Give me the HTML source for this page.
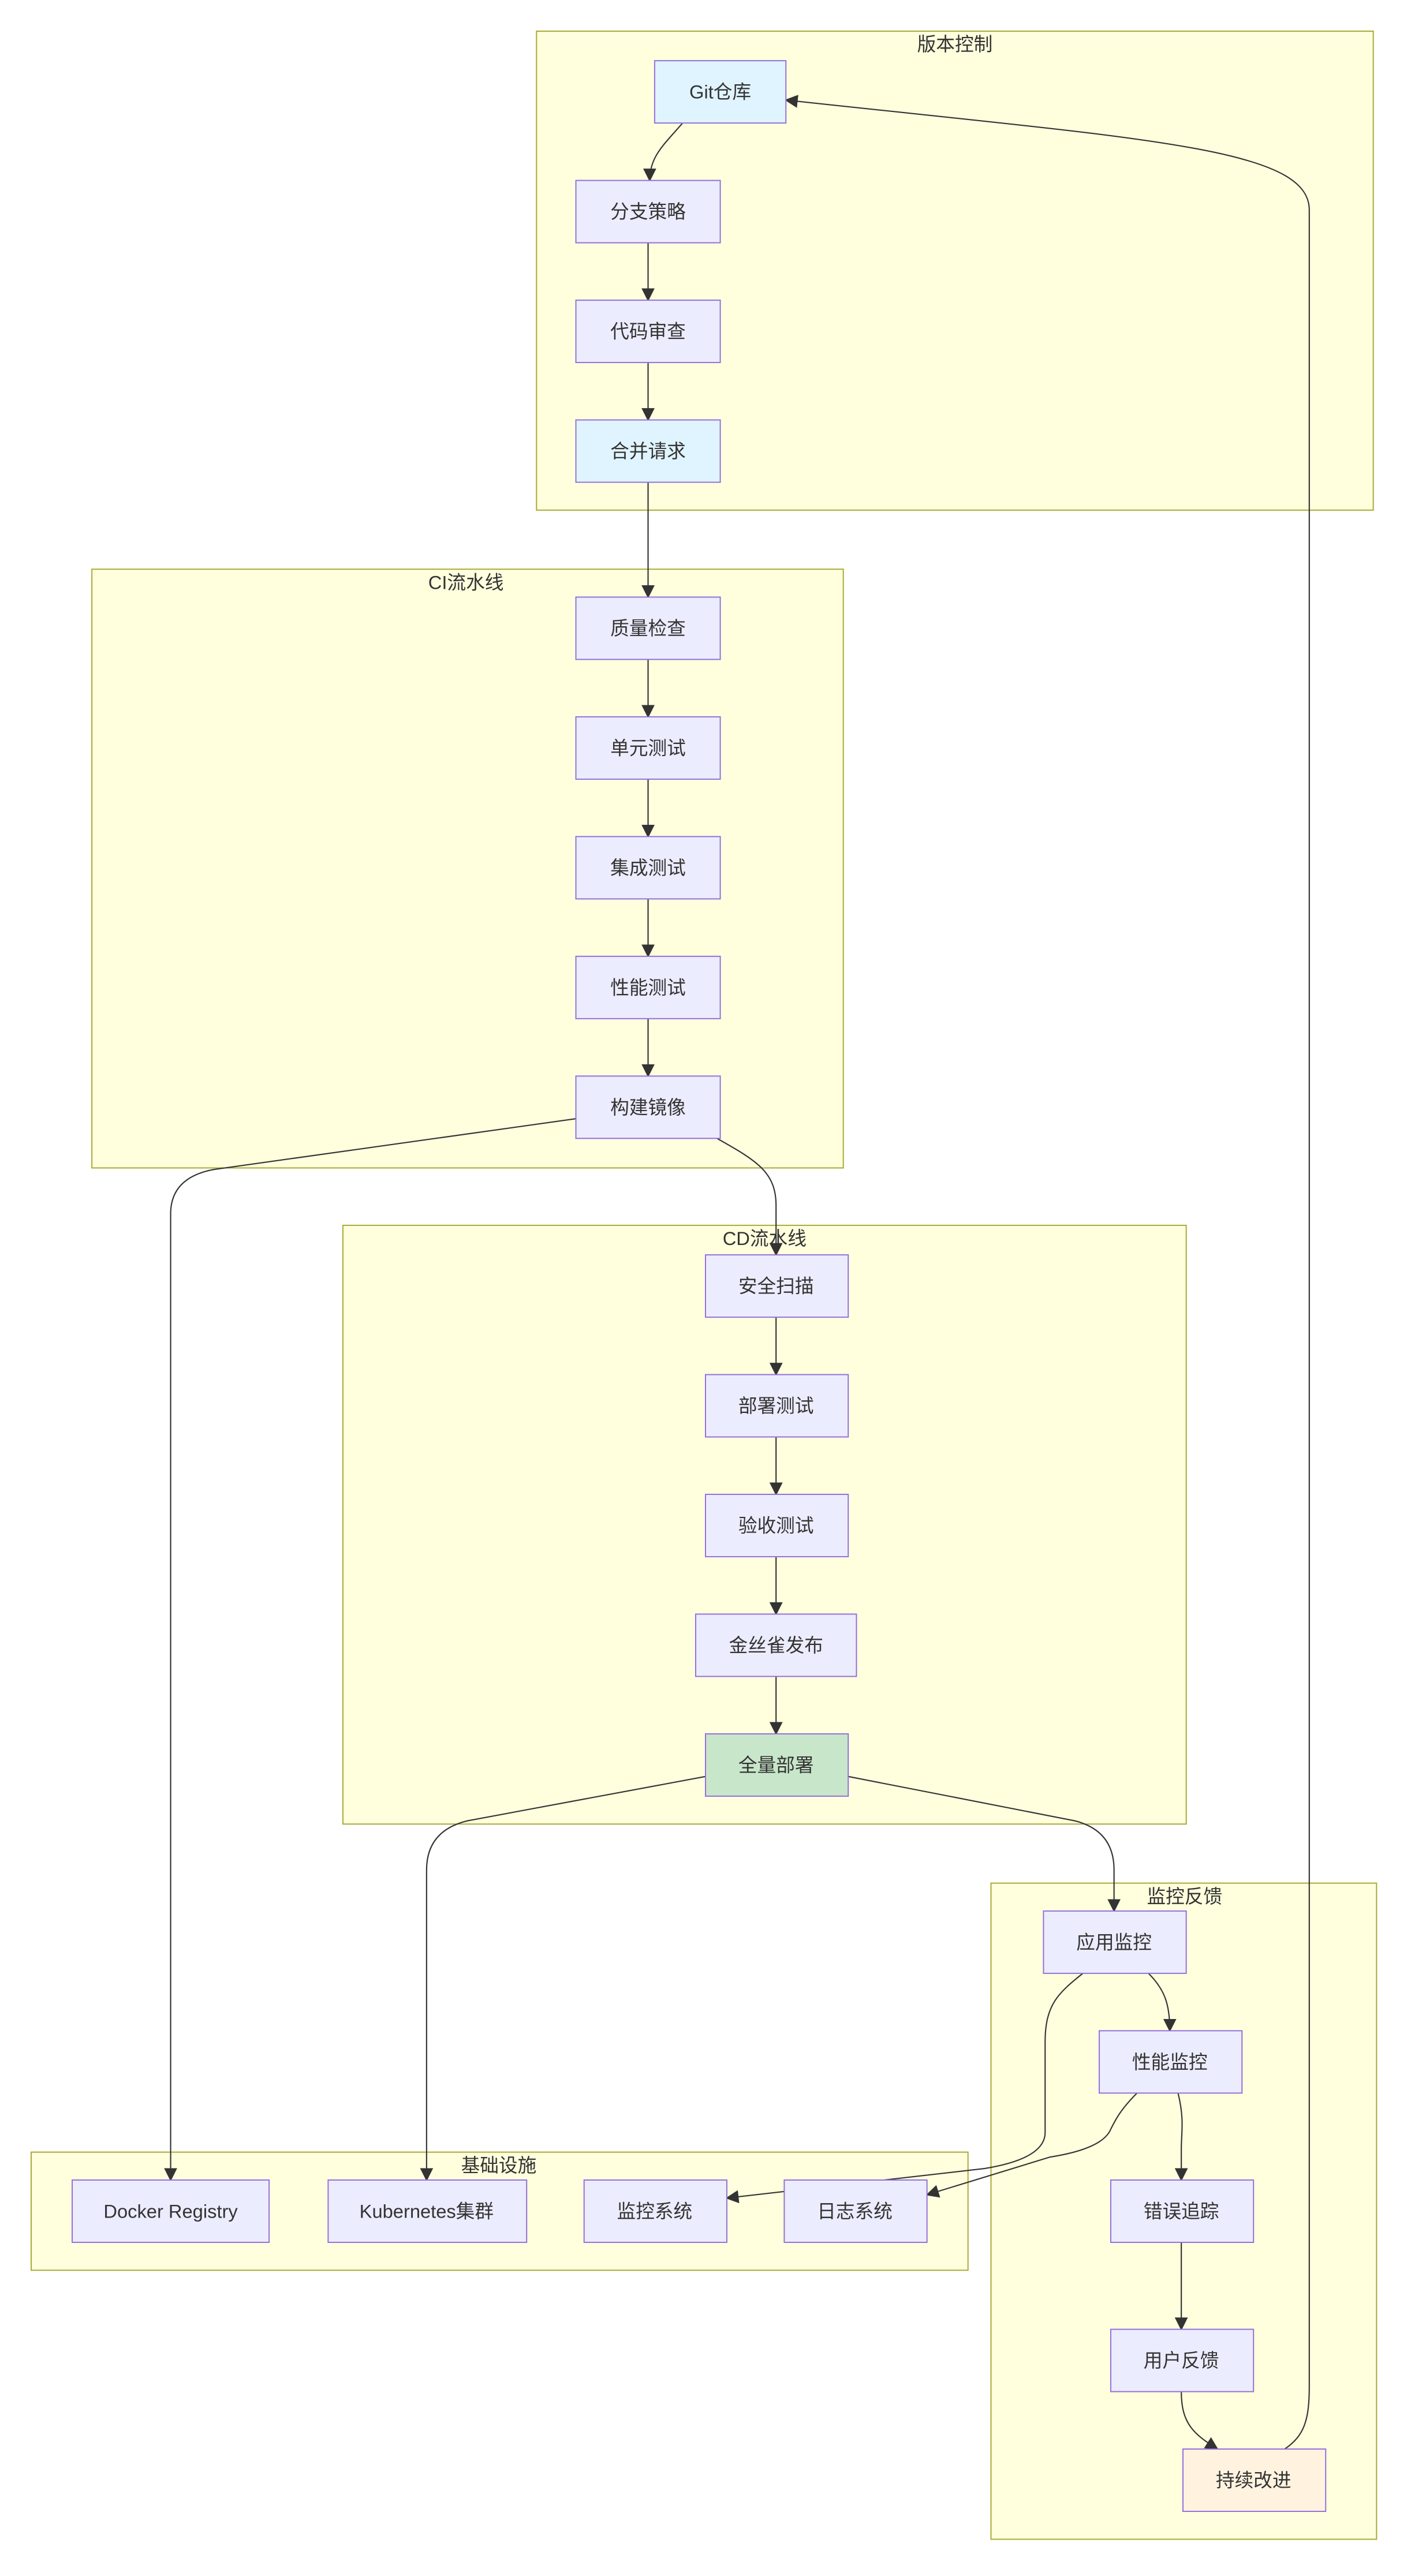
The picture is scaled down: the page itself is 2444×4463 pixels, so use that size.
<!DOCTYPE html>
<html><head><meta charset="utf-8"><style>
html,body{margin:0;padding:0;background:#fff;}
svg{display:block;}
text{font-family:"Liberation Sans","Noto Sans CJK SC",sans-serif;fill:#333;}
.c{fill:#ffffde;stroke:#aaaa33;stroke-width:0.7;}
.n{fill:#ececff;stroke:#9370db;stroke-width:0.7;}
.e{fill:none;stroke:#333;stroke-width:0.75;}
.t{font-size:11.5px;text-anchor:middle;dominant-baseline:central;}
.cl{font-size:11.5px;text-anchor:middle;dominant-baseline:central;}
</style></head><body>
<svg width="2444" height="4463" viewBox="0 0 860 1570.4" preserveAspectRatio="none" xmlns="http://www.w3.org/2000/svg">
<defs><marker id="a" viewBox="0 0 10 10" refX="9" refY="5" markerWidth="8" markerHeight="8" markerUnits="userSpaceOnUse" orient="auto"><path d="M0,0L10,5L0,10z" fill="#333"/></marker></defs>
<rect width="860" height="1571" fill="#fff"/>
<!-- clusters -->
<rect class="c" x="327" y="19" width="510" height="292"/><text class="cl" x="582" y="27">版本控制</text>
<rect class="c" x="56" y="347" width="458" height="365"/><text class="cl" x="284" y="355">CI流水线</text>
<rect class="c" x="209" y="747" width="514" height="365"/><text class="cl" x="466" y="755">CD流水线</text>
<rect class="c" x="604" y="1148" width="235" height="400"/><text class="cl" x="722" y="1156">监控反馈</text>
<rect class="c" x="19" y="1312" width="571" height="72"/><text class="cl" x="304" y="1320">基础设施</text>
<!-- edges -->
<g class="e" marker-end="url(#a)">
<path d="M416,75 C405,88 396,95 396,110"/>
<path d="M395,148 L395,183"/>
<path d="M395,221 L395,256"/>
<path d="M395,294 L395,364"/>
<path d="M395,402 L395,437"/>
<path d="M395,475 L395,510"/>
<path d="M395,548 L395,583"/>
<path d="M395,621 L395,656"/>
<path d="M351,682 L130,713 Q104,718 104,740 L104,1329"/>
<path d="M437,694 C462,708 473,715 473,735 L473,765"/>
<path d="M473,803 L473,838"/>
<path d="M473,876 L473,911"/>
<path d="M473,949 L473,984"/>
<path d="M473,1022 L473,1057"/>
<path d="M430,1083 L285,1110 Q260,1116 260,1140 L260,1329"/>
<path d="M517,1083 L655,1110 Q679,1116 679,1140 L679,1165"/>
<path d="M700,1203 C710,1213 713,1222 713,1238"/>
<path d="M660,1203 C645,1215 637,1222 637,1245 L637,1300 Q637,1316 600,1322 L443,1340"/>
<path d="M693,1276 C683,1286 680,1292 677,1298 Q672,1310 640,1315 L565,1338"/>
<path d="M718,1276 C722,1292 720,1300 720,1310 L720,1329"/>
<path d="M720,1367 L720,1420"/>
<path d="M720,1458 C720,1478 728,1484 742,1493"/>
<path d="M783,1493 C795,1485 798,1475 798,1455 L798,128 C798,90 700,85 479,61"/>
</g>
<!-- nodes -->
<rect class="n" x="399" y="37" width="80" height="38" style="fill:#e0f4ff"/><text class="t" x="439" y="56">Git仓库</text>
<rect class="n" x="351" y="110" width="88" height="38"/><text class="t" x="395" y="129">分支策略</text>
<rect class="n" x="351" y="183" width="88" height="38"/><text class="t" x="395" y="202">代码审查</text>
<rect class="n" x="351" y="256" width="88" height="38" style="fill:#e0f4ff"/><text class="t" x="395" y="275">合并请求</text>
<rect class="n" x="351" y="364" width="88" height="38"/><text class="t" x="395" y="383">质量检查</text>
<rect class="n" x="351" y="437" width="88" height="38"/><text class="t" x="395" y="456">单元测试</text>
<rect class="n" x="351" y="510" width="88" height="38"/><text class="t" x="395" y="529">集成测试</text>
<rect class="n" x="351" y="583" width="88" height="38"/><text class="t" x="395" y="602">性能测试</text>
<rect class="n" x="351" y="656" width="88" height="38"/><text class="t" x="395" y="675">构建镜像</text>
<rect class="n" x="430" y="765" width="87" height="38"/><text class="t" x="473" y="784">安全扫描</text>
<rect class="n" x="430" y="838" width="87" height="38"/><text class="t" x="473" y="857">部署测试</text>
<rect class="n" x="430" y="911" width="87" height="38"/><text class="t" x="473" y="930">验收测试</text>
<rect class="n" x="424" y="984" width="98" height="38"/><text class="t" x="473" y="1003">金丝雀发布</text>
<rect class="n" x="430" y="1057" width="87" height="38" style="fill:#c8e6c9"/><text class="t" x="473" y="1076">全量部署</text>
<rect class="n" x="636" y="1165" width="87" height="38"/><text class="t" x="679" y="1184">应用监控</text>
<rect class="n" x="670" y="1238" width="87" height="38"/><text class="t" x="713" y="1257">性能监控</text>
<rect class="n" x="677" y="1329" width="87" height="38"/><text class="t" x="720" y="1348">错误追踪</text>
<rect class="n" x="677" y="1420" width="87" height="38"/><text class="t" x="720" y="1439">用户反馈</text>
<rect class="n" x="721" y="1493" width="87" height="38" style="fill:#fff3e0"/><text class="t" x="764" y="1512">持续改进</text>
<rect class="n" x="44" y="1329" width="120" height="38"/><text class="t" x="104" y="1348">Docker Registry</text>
<rect class="n" x="200" y="1329" width="121" height="38"/><text class="t" x="260" y="1348">Kubernetes集群</text>
<rect class="n" x="356" y="1329" width="87" height="38"/><text class="t" x="399" y="1348">监控系统</text>
<rect class="n" x="478" y="1329" width="87" height="38"/><text class="t" x="521" y="1348">日志系统</text>
</svg>
</body></html>
